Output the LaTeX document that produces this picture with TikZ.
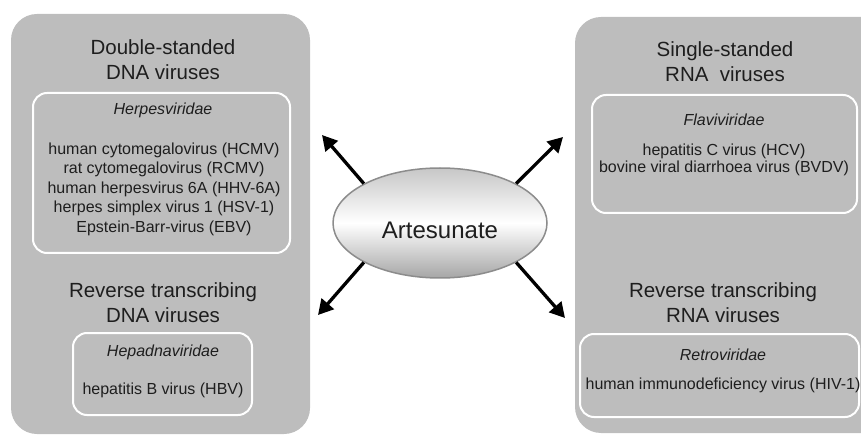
\documentclass[tikz,border=0pt]{standalone}
\usepackage{fontspec}
\setmainfont{Liberation Sans}
\usetikzlibrary{shapes.geometric,arrows.meta}
\definecolor{panelgray}{RGB}{189,189,189}
\definecolor{inkgray}{RGB}{30,30,30}

\begin{document}
\begin{tikzpicture}[x=1pt,y=-1pt,
  title/.style={text=inkgray,align=center,font=\fontsize{20.5}{25}\selectfont},
  family/.style={text=inkgray,font=\fontsize{16}{19.5}\selectfont\itshape},
  virus/.style={text=inkgray,align=center,font=\fontsize{16}{19.5}\selectfont},
  panel/.style={fill=panelgray,rounded corners=26pt},
  box/.style={draw=white,line width=2pt,rounded corners=14pt},
  hit/.style={line width=3.3pt,-{Triangle[length=15pt,width=16pt]}}]
\useasboundingbox (0,0) rectangle (861,435);
\clip (0,0) rectangle (861,435);
\def\leftpanel{(11,14) rectangle (310,434)}
\def\rightpanel{(575,17) rectangle (895,433)}

\fill[panel] \leftpanel;
\fill[panel] \rightpanel;

% inner boxes
\draw[box] (33,93) rectangle (290,253);
\draw[box] (73,333) rectangle (252,415);
\draw[box] (592,95) rectangle (857,213);
\draw[box] (580,334) rectangle (859,417);

% left side
\node[title] (dsDNA) at (163,59.5) {Double-standed\\DNA viruses};
\node[family] (herpes) at (163,110) {Herpesviridae};
\node[virus] (herpesList) at (164,189) {human cytomegalovirus (HCMV)\\
  rat cytomegalovirus (RCMV)\\human herpesvirus 6A (HHV-6A)\\
  herpes simplex virus 1 (HSV-1)\\Epstein-Barr-virus (EBV)};
\node[title] (rtDNA) at (163,302.5) {Reverse transcribing\\DNA viruses};
\node[family] (hepadna) at (163,352) {Hepadnaviridae};
\node[virus] (hbv) at (163,390) {hepatitis B virus (HBV)};

% right side
\node[title] (ssRNA) at (725,61.5) {Single-standed\\RNA\ \ viruses};
\node[family] (flavi) at (724,120) {Flaviviridae};
\node[virus,font=\fontsize{16}{17.5}\selectfont] (flaviList) at (724,160)
  {hepatitis C virus (HCV)\\bovine viral diarrhoea virus (BVDV)};
\node[title] (rtRNA) at (723,302.5) {Reverse transcribing\\RNA viruses};
\node[family] (retro) at (723,355) {Retroviridae};
\node[virus] (hiv) at (723,385) {human immunodeficiency virus (HIV-1)};

% centre
\node[ellipse,draw=black!45,line width=1.5pt,top color=black!22,
  bottom color=black!35,middle color=white,minimum width=214pt,
  minimum height=110pt,inner sep=0pt,text height=31pt,text=inkgray,
  font=\fontsize{24}{28}\selectfont] (art) at (440,223) {Artesunate};

\coordinate (toDS) at (322,135);
\coordinate (toSS) at (563,137);
\coordinate (toRD) at (318,315);
\coordinate (toRR) at (565,318);

\draw[hit] (art.north west) -- (toDS);
\draw[hit] (art.north east) -- (toSS);
\draw[hit] (art.south west) -- (toRD);
\draw[hit] (art.south east) -- (toRR);
\end{tikzpicture}
\end{document}
